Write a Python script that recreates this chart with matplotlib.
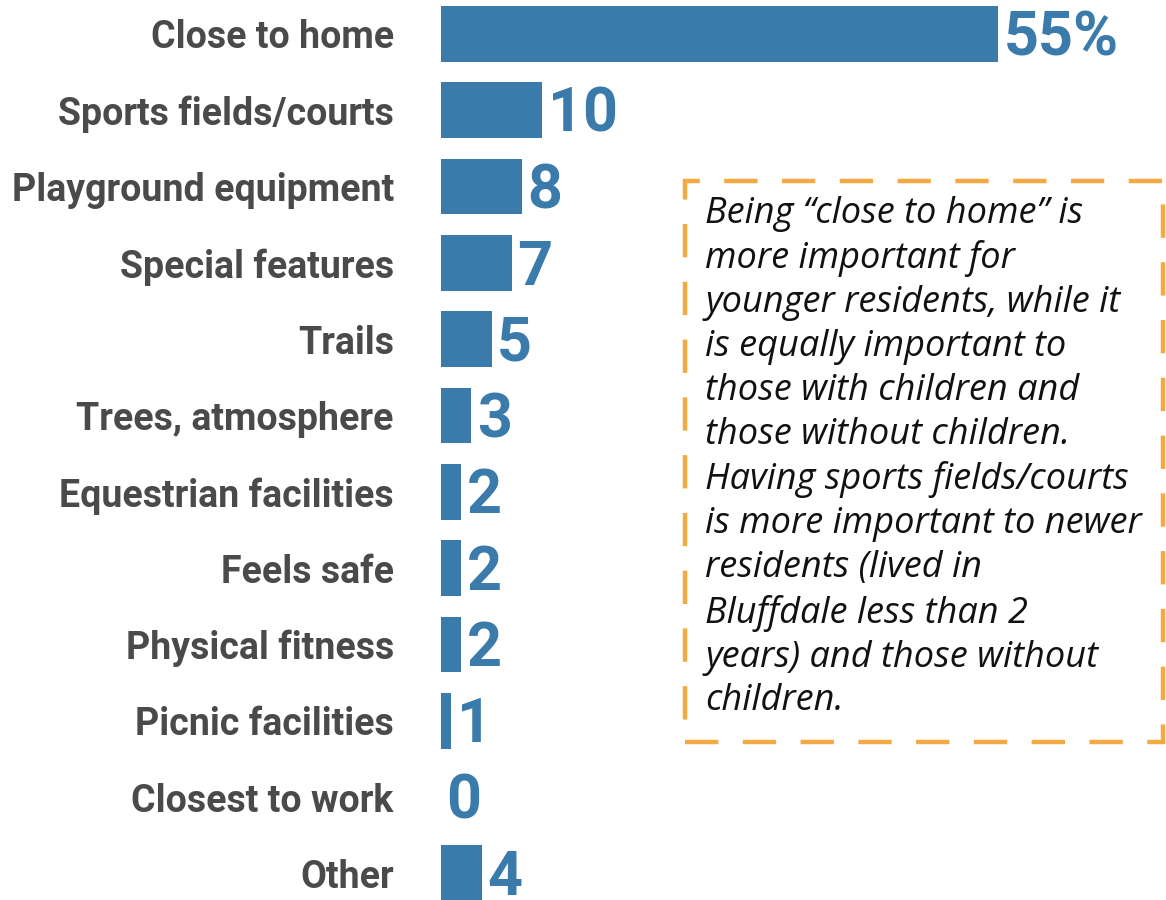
import matplotlib
matplotlib.use("Agg")
import matplotlib.pyplot as plt
from matplotlib.patches import Rectangle

categories = ["Close to home", "Sports fields/courts", "Playground equipment",
              "Special features", "Trails", "Trees, atmosphere",
              "Equestrian facilities", "Feels safe", "Physical fitness",
              "Picnic facilities", "Closest to work", "Other"]
values = [55, 10, 8, 7, 5, 3, 2, 2, 2, 1, 0, 4]
value_labels = ["55%", "10", "8", "7", "5", "3", "2", "2", "2", "1", "0", "4"]

note_lines = [
    "Being \u201cclose to home\u201d is",
    "more important for",
    "younger residents, while it",
    "is equally important to",
    "those with children and",
    "those without children.",
    "Having sports fields/courts",
    "is more important to newer",
    "residents (lived in",
    "Bluffdale less than 2",
    "years) and those without",
    "children.",
]

bar_color = "#3a7bab"
label_color = "#4a4a4a"
box_color = "#f4aa42"

fig = plt.figure(figsize=[11.66, 9], dpi=100)
ax = fig.add_axes([441 / 1166, 0, 1 - 441 / 1166, 1])

y = list(range(len(categories)))
ax.barh(y, values, height=0.73, color=bar_color)
ax.set_xlim(0, (1166 - 441) / 10.13)
ax.set_ylim(866 / 76.3, -34 / 76.3)

ax.set_yticks(y)
ax.set_yticklabels(categories, fontfamily="Roboto", fontweight="bold",
                   fontsize=27, color=label_color)
ax.tick_params(axis="y", length=0, pad=34)
ax.set_xticks([])
for s in ax.spines.values():
    s.set_visible(False)

for yi, v, lab in zip(y, values, value_labels):
    ax.annotate(lab, (v, yi), xytext=(4, 1), textcoords="offset points",
                va="center_baseline", ha="left", fontfamily="Roboto",
                fontweight="bold", fontsize=44, color=bar_color, clip_on=False)

# dashed note box
fig.patches.append(Rectangle((685 / 1166, 1 - 742 / 900), (1163 - 685) / 1166,
                             (742 - 181) / 900, transform=fig.transFigure,
                             fill=False, edgecolor=box_color, linewidth=3.2,
                             linestyle=(0, (7.5, 5.5))))
fig.text(705 / 1166, 1 - 196 / 900, "\n".join(note_lines), ha="left", va="top",
         fontfamily="Open Sans", fontstyle="italic", fontsize=26, linespacing=1.295,
         color="#111111")

plt.savefig("out.png", dpi=100)
plt.close()
